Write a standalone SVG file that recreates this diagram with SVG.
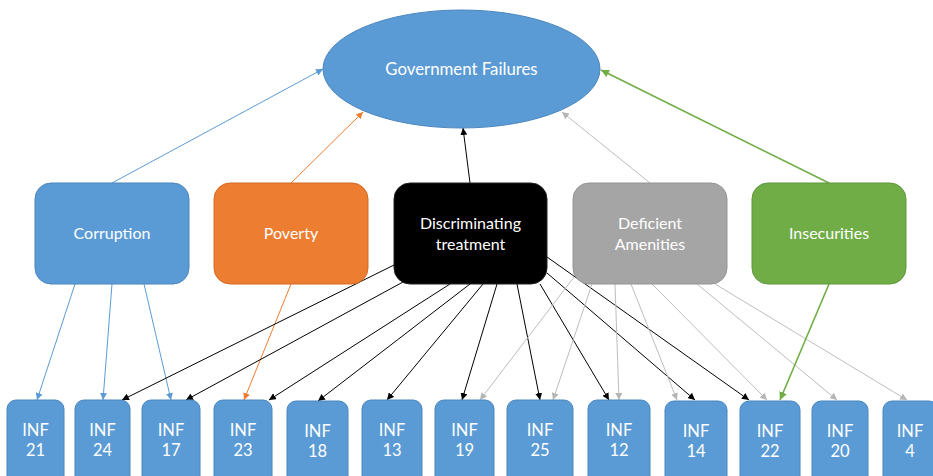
<svg xmlns="http://www.w3.org/2000/svg" width="933" height="476" viewBox="0 0 933 476">
<defs>
<style>
text{font-family:Lato,"Open Sans","Liberation Sans",sans-serif;fill:#fff;text-anchor:middle}
.t{font-size:16px}
.g{font-size:16.8px}
.i{font-size:16.5px}
.blue{fill:#5B9BD5;stroke:#4A86BE;stroke-width:1}
.org{fill:#ED7D31;stroke:#D46A22;stroke-width:1}
.blk{fill:#000;stroke:#222;stroke-width:1}
.gry{fill:#A5A5A5;stroke:#949494;stroke-width:1}
.grn{fill:#70AD47;stroke:#5F973B;stroke-width:1}
#edges line{stroke-width:1;fill:none}
.eb{stroke:#5B9BD5}
.eo{stroke:#ED7D31}
.ek{stroke:#000}
.eg{stroke:#BDBDBD}
.en{stroke:#70AD47;stroke-width:1.6!important}
</style>
<marker id="mb" viewBox="0 0 10 10" refX="10" refY="5" markerWidth="7" markerHeight="7" markerUnits="userSpaceOnUse" orient="auto"><path d="M0,0L10,5L0,10z" fill="#5B9BD5"/></marker>
<marker id="mo" viewBox="0 0 10 10" refX="10" refY="5" markerWidth="7" markerHeight="7" markerUnits="userSpaceOnUse" orient="auto"><path d="M0,0L10,5L0,10z" fill="#ED7D31"/></marker>
<marker id="mk" viewBox="0 0 10 10" refX="10" refY="5" markerWidth="7" markerHeight="7" markerUnits="userSpaceOnUse" orient="auto"><path d="M0,0L10,5L0,10z" fill="#000"/></marker>
<marker id="mg" viewBox="0 0 10 10" refX="10" refY="5" markerWidth="7" markerHeight="7" markerUnits="userSpaceOnUse" orient="auto"><path d="M0,0L10,5L0,10z" fill="#B5B5B5"/></marker>
<marker id="mn" viewBox="0 0 10 10" refX="10" refY="5" markerWidth="8" markerHeight="8" markerUnits="userSpaceOnUse" orient="auto"><path d="M0,0L10,5L0,10z" fill="#70AD47"/></marker>
</defs>
<rect width="933" height="476" fill="#fff"/>

<g id="edges">
<line class="eb" x1="112" y1="183" x2="323" y2="69" marker-end="url(#mb)"/>
<line class="eo" x1="291" y1="183" x2="363" y2="112" marker-end="url(#mo)"/>
<line class="ek" x1="470" y1="183" x2="463" y2="128" marker-end="url(#mk)"/>
<line class="eg" x1="650" y1="183" x2="562" y2="112" marker-end="url(#mg)"/>
<line class="en" x1="829" y1="183" x2="601" y2="70" marker-end="url(#mn)"/>

<line class="eb" x1="75" y1="284" x2="37" y2="400" marker-end="url(#mb)"/>
<line class="eb" x1="112" y1="284" x2="103" y2="400" marker-end="url(#mb)"/>
<line class="eb" x1="144" y1="284" x2="171" y2="400" marker-end="url(#mb)"/>
<line class="eo" x1="291" y1="284" x2="244" y2="400" marker-end="url(#mo)"/>

<line class="ek" x1="394" y1="265" x2="122" y2="400" marker-end="url(#mk)"/>
<line class="ek" x1="403" y1="282" x2="186" y2="400" marker-end="url(#mk)"/>
<line class="ek" x1="450" y1="284" x2="269" y2="400" marker-end="url(#mk)"/>
<line class="ek" x1="470" y1="284" x2="318" y2="401" marker-end="url(#mk)"/>
<line class="ek" x1="483" y1="284" x2="387" y2="400" marker-end="url(#mk)"/>
<line class="ek" x1="497" y1="284" x2="462" y2="400" marker-end="url(#mk)"/>
<line class="ek" x1="517" y1="284" x2="540" y2="400" marker-end="url(#mk)"/>
<line class="ek" x1="540" y1="284" x2="609" y2="400" marker-end="url(#mk)"/>
<line class="ek" x1="547" y1="273" x2="695" y2="400" marker-end="url(#mk)"/>
<line class="ek" x1="547" y1="257" x2="749" y2="400" marker-end="url(#mk)"/>

<line class="eg" x1="574" y1="277" x2="480" y2="400" marker-end="url(#mg)"/>
<line class="eg" x1="592" y1="284" x2="553" y2="400" marker-end="url(#mg)"/>
<line class="eg" x1="615" y1="284" x2="619" y2="400" marker-end="url(#mg)"/>
<line class="eg" x1="631" y1="284" x2="677" y2="400" marker-end="url(#mg)"/>
<line class="eg" x1="652" y1="284" x2="767" y2="400" marker-end="url(#mg)"/>
<line class="eg" x1="697" y1="284" x2="837" y2="400" marker-end="url(#mg)"/>
<line class="eg" x1="715" y1="284" x2="907" y2="400" marker-end="url(#mg)"/>

<line class="en" x1="829" y1="284" x2="780" y2="400" marker-end="url(#mn)"/>
</g>

<g id="gov"><ellipse class="blue" cx="461.5" cy="69" rx="138.5" ry="59"/><text class="g" x="461.5" y="75">Government Failures</text></g>

<g id="corruption"><rect class="blue" x="35" y="183" width="154" height="101" rx="16"/><text class="t" x="112" y="239">Corruption</text></g>
<g id="poverty"><rect class="org" x="214" y="183" width="154" height="101" rx="16"/><text class="t" x="291" y="239">Poverty</text></g>
<g id="discriminating"><rect class="blk" x="394" y="183" width="153" height="101" rx="16"/><text class="t" x="470.5" y="229">Discriminating</text><text class="t" x="470.5" y="250">treatment</text></g>
<g id="deficient"><rect class="gry" x="573" y="183" width="154" height="101" rx="16"/><text class="t" x="650" y="229">Deficient</text><text class="t" x="650" y="250">Amenities</text></g>
<g id="insecurities"><rect class="grn" x="752" y="183" width="154" height="101" rx="16"/><text class="t" x="829" y="239">Insecurities</text></g>

<g id="inf21"><rect class="blue" x="7" y="400" width="57" height="90" rx="9"/><text class="i" x="35.5" y="436">INF</text><text class="i" x="35.5" y="456">21</text></g>
<g id="inf24"><rect class="blue" x="75" y="400" width="55" height="90" rx="9"/><text class="i" x="102.5" y="436">INF</text><text class="i" x="102.5" y="456">24</text></g>
<g id="inf17"><rect class="blue" x="142" y="400" width="58" height="90" rx="9"/><text class="i" x="171" y="436">INF</text><text class="i" x="171" y="456">17</text></g>
<g id="inf23"><rect class="blue" x="214" y="400" width="58" height="90" rx="9"/><text class="i" x="243" y="436">INF</text><text class="i" x="243" y="456">23</text></g>
<g id="inf18"><rect class="blue" x="287" y="401" width="61" height="90" rx="9"/><text class="i" x="317.5" y="437">INF</text><text class="i" x="317.5" y="457">18</text></g>
<g id="inf13"><rect class="blue" x="362" y="400" width="60" height="90" rx="9"/><text class="i" x="392" y="436">INF</text><text class="i" x="392" y="456">13</text></g>
<g id="inf19"><rect class="blue" x="435" y="400" width="59" height="90" rx="9"/><text class="i" x="464.5" y="436">INF</text><text class="i" x="464.5" y="456">19</text></g>
<g id="inf25"><rect class="blue" x="507" y="400" width="66" height="90" rx="9"/><text class="i" x="540" y="436">INF</text><text class="i" x="540" y="456">25</text></g>
<g id="inf12"><rect class="blue" x="588" y="400" width="62" height="90" rx="9"/><text class="i" x="619" y="436">INF</text><text class="i" x="619" y="456">12</text></g>
<g id="inf14"><rect class="blue" x="665" y="401" width="62" height="90" rx="9"/><text class="i" x="696" y="437">INF</text><text class="i" x="696" y="457">14</text></g>
<g id="inf22"><rect class="blue" x="740" y="401" width="60" height="90" rx="9"/><text class="i" x="770" y="437">INF</text><text class="i" x="770" y="457">22</text></g>
<g id="inf20"><rect class="blue" x="812" y="401" width="56" height="90" rx="9"/><text class="i" x="840" y="437">INF</text><text class="i" x="840" y="457">20</text></g>
<g id="inf4"><rect class="blue" x="883" y="401" width="55" height="90" rx="9"/><text class="i" x="910" y="437">INF</text><text class="i" x="910" y="457">4</text></g>
</svg>
